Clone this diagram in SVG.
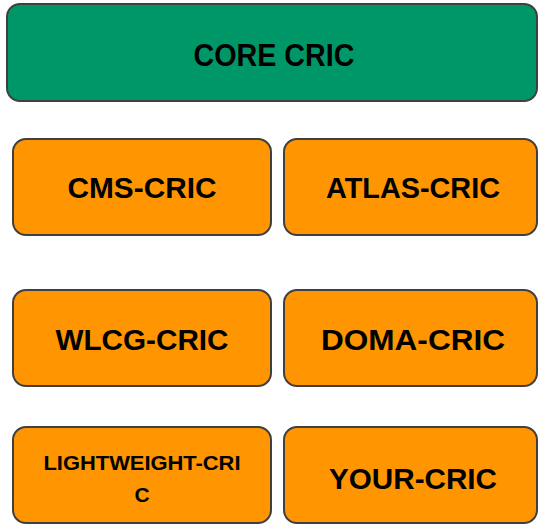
<svg xmlns="http://www.w3.org/2000/svg" width="539" height="524" viewBox="0 0 539 524">
<style>
.box{stroke:#404040;stroke-width:2}
.core{fill:#009768}
.org{fill:#FF9500}
text{font-family:"Liberation Sans",Arial,sans-serif;font-weight:bold;fill:#000;text-anchor:middle}
.big{font-size:29px}
.huge{font-size:31px}
.small{font-size:21px}
</style>
<rect width="539" height="524" fill="#fff"/>
<g id="core-cric"><rect class="box core" x="7" y="4" width="530" height="97" rx="13"/><text class="huge" x="274" y="66" textLength="161" lengthAdjust="spacingAndGlyphs">CORE CRIC</text></g>
<g id="cms-cric"><rect class="box org" x="13" y="139" width="258" height="96" rx="13"/><text class="big" x="142" y="198" textLength="149" lengthAdjust="spacingAndGlyphs">CMS-CRIC</text></g>
<g id="atlas-cric"><rect class="box org" x="284" y="139" width="253" height="96" rx="13"/><text class="big" x="413" y="198" textLength="174" lengthAdjust="spacingAndGlyphs">ATLAS-CRIC</text></g>
<g id="wlcg-cric"><rect class="box org" x="13" y="290" width="258" height="96" rx="13"/><text class="big" x="142" y="350" textLength="173" lengthAdjust="spacingAndGlyphs">WLCG-CRIC</text></g>
<g id="doma-cric"><rect class="box org" x="284" y="290" width="253" height="96" rx="13"/><text class="big" x="413" y="350" textLength="184" lengthAdjust="spacingAndGlyphs">DOMA-CRIC</text></g>
<g id="lightweight-cric"><rect class="box org" x="13" y="427" width="258" height="96" rx="13"/><text class="small" x="142" y="470" textLength="197" lengthAdjust="spacingAndGlyphs">LIGHTWEIGHT-CRI</text><text class="small" x="142" y="502">C</text></g>
<g id="your-cric"><rect class="box org" x="284" y="427" width="253" height="96" rx="13"/><text class="big" x="413" y="489" textLength="168" lengthAdjust="spacingAndGlyphs">YOUR-CRIC</text></g>
<g id="connectors"/>
</svg>
